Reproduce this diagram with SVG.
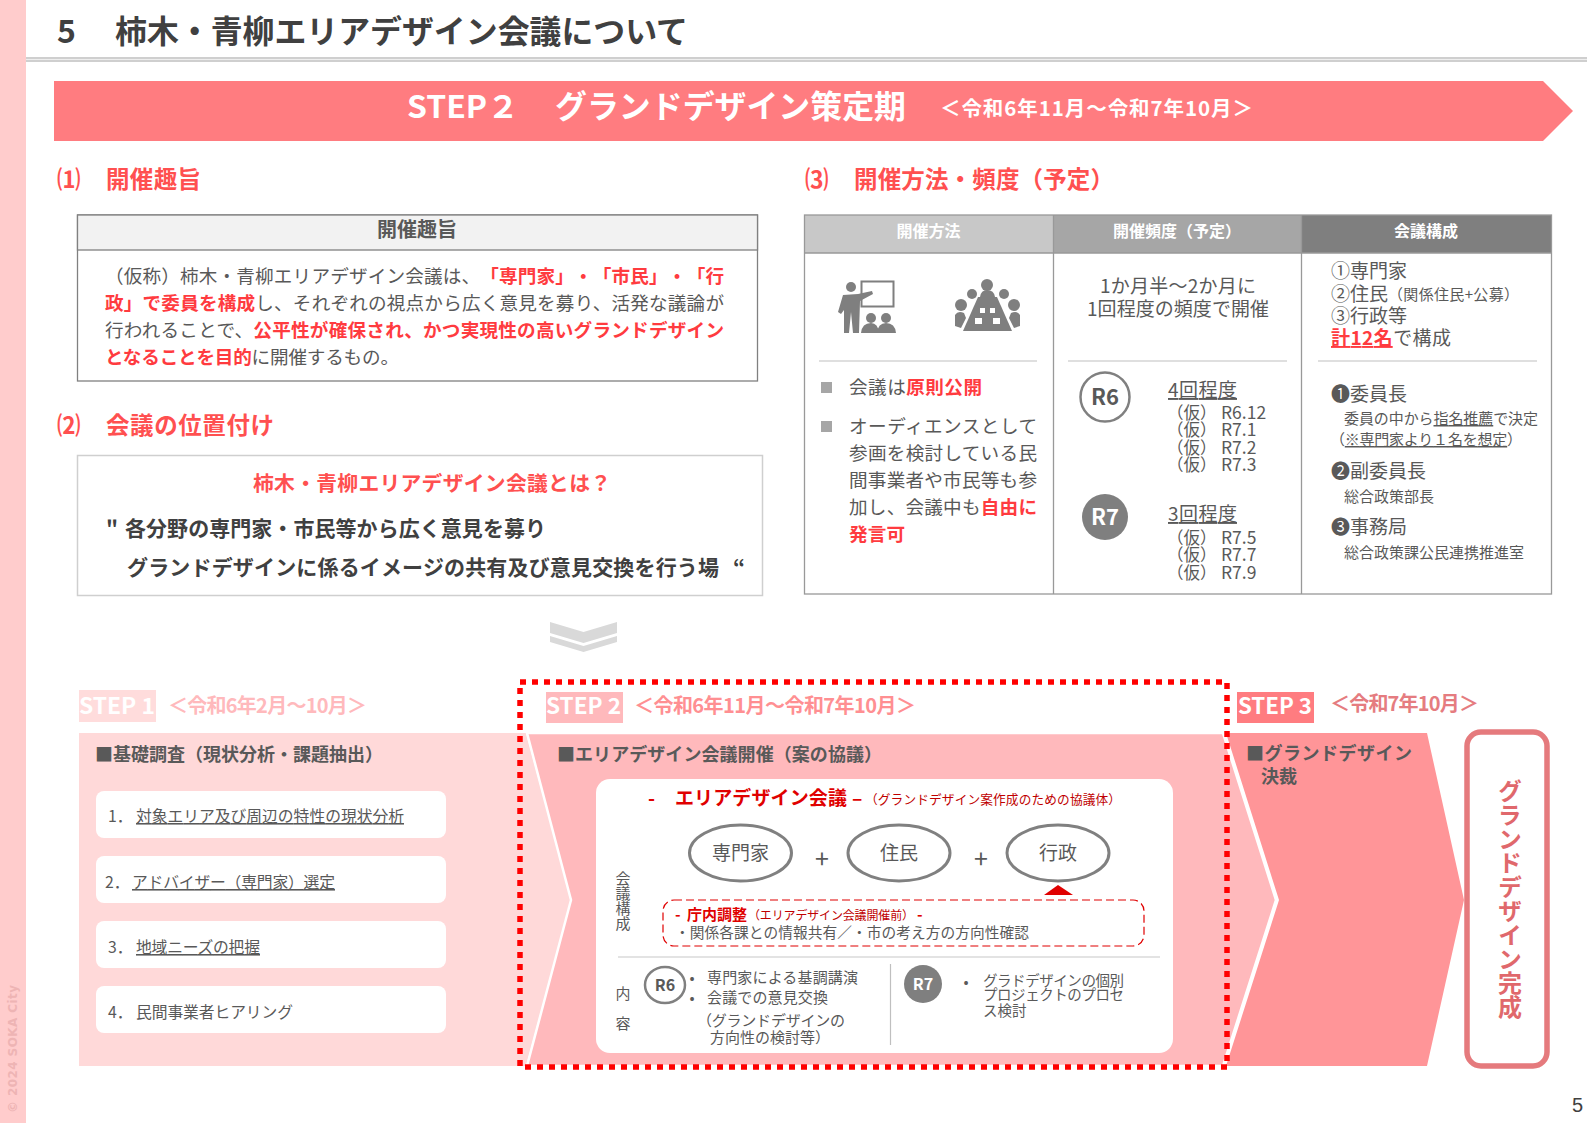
<svg xmlns="http://www.w3.org/2000/svg" width="1587" height="1123" viewBox="0 0 1587 1123">
<style>
text{font-family:"Noto Sans CJK JP","Noto Sans",sans-serif;fill:#595959;text-spacing-trim:space-all}
.b{font-weight:700}
.h{font-size:23.5px;font-weight:700;fill:#ff5050}
.r{fill:#ff3b3f;font-weight:700}
.w{fill:#fff;font-weight:700}
.t{font-size:18.6px}
.s{font-size:16.500px}
.d{font-size:17.500px}
.c{font-size:19px}
.x{font-size:15px}
.m{text-anchor:middle}
.u{text-decoration:underline}
.it{font-size:15.8px}
.sh{font-size:18px;font-weight:700}
.tag{font-size:22px}
.hd{font-size:16px}
</style>
<rect width="1587" height="1123" fill="#fff"/>
<g id="side"><rect width="26" height="1123" fill="#ffcccc"/>
<text transform="translate(17,1113) rotate(-90)" style="font-family:'DejaVu Sans',sans-serif;font-size:12px;font-weight:700;fill:#eeb4b4" textLength="128">© 2024 SOKA City</text></g>
<g id="title"><text x="57" y="43" class="b" style="font-size:32px;fill:#404040">5</text><text x="115" y="43" class="b" style="font-size:32px;fill:#404040" textLength="573" lengthAdjust="spacingAndGlyphs">柿木・青柳エリアデザイン会議について</text>
<rect x="26" y="57" width="1561" height="5" fill="#cfcfcf"/><rect x="26" y="59" width="1561" height="1" fill="#eeeeee"/></g>
<g id="banner"><polygon points="54,81 1543,81 1573,111 1543,141 54,141" fill="#ff7c80"/>
<text x="407" y="118" class="w" style="font-size:31px" textLength="112" lengthAdjust="spacingAndGlyphs">STEP２</text><text x="555" y="118" class="w" style="font-size:31.500px" textLength="351" lengthAdjust="spacingAndGlyphs">グランドデザイン策定期</text>
<text x="940" y="116" class="w" style="font-size:20.5px" textLength="313">＜令和6年11月～令和7年10月＞</text></g>

<g id="s1"><text x="57" y="188" class="h">⑴</text><text x="106" y="188" class="h" textLength="95">開催趣旨</text>
<rect x="77.500" y="215" width="680" height="166" fill="#fff" stroke="#808080" stroke-width="1.300"/>
<rect x="77.500" y="215" width="680" height="35" fill="#f2f2f2" stroke="#808080" stroke-width="1.300"/>
<text x="417" y="237" class="b m" style="font-size:20px">開催趣旨</text>
<text x="105" y="283" class="t" textLength="619">（仮称）柿木・青柳エリアデザイン会議は、<tspan class="r">「専門家」・「市民」・「行</tspan></text>
<text x="105" y="310" class="t" textLength="619"><tspan class="r">政」で委員を構成</tspan>し、それぞれの視点から広く意見を募り、活発な議論が</text>
<text x="105" y="337" class="t" textLength="619">行われることで、<tspan class="r">公平性が確保され、かつ実現性の高いグランドデザイン</tspan></text>
<text x="105" y="364" class="t" textLength="294"><tspan class="r">となることを目的</tspan>に開催するもの。</text></g>

<g id="s2"><text x="57" y="434" class="h">⑵</text><text x="106" y="434" class="h" textLength="168">会議の位置付け</text>
<rect x="77.500" y="455.500" width="685" height="140" fill="#fff" stroke="#cfcfcf" stroke-width="1.500"/>
<text x="253" y="491" class="b" style="font-size:20.800px;fill:#ff5050" textLength="358">柿木・青柳エリアデザイン会議とは？</text>
<text x="106" y="536" class="b" style="font-size:21px;fill:#404040">"</text><text x="125" y="536" class="b" style="font-size:21px;fill:#404040" textLength="421">各分野の専門家・市民等から広く意見を募り</text>
<text x="127" y="575" class="b" style="font-size:21px;fill:#404040" textLength="592">グランドデザインに係るイメージの共有及び意見交換を行う場</text><text x="733" y="575" class="b" style="font-size:21px;fill:#404040">“</text></g>
<g id="chev" fill="#d9d9d9"><polygon points="550,622 583.500,632 617,622 617,633 583.500,643 550,633"/><polygon points="550,636 583.500,646 617,636 617,642 583.500,652 550,642"/></g>

<g id="s3"><text x="805" y="188" class="h">⑶</text><text x="854" y="188" class="h" textLength="260">開催方法・頻度（予定）</text>
<rect x="804" y="215" width="249" height="38" fill="#c8c8c8"/><rect x="1053" y="215" width="248" height="38" fill="#a6a6a6"/><rect x="1301" y="215" width="250" height="38" fill="#7f7f7f"/>
<g fill="none" stroke="#999" stroke-width="1.300"><rect x="804.500" y="215" width="747" height="379"/><line x1="1053.500" y1="215" x2="1053.500" y2="594"/><line x1="1301.500" y1="215" x2="1301.500" y2="594"/><line x1="804" y1="253" x2="1551" y2="253"/></g>
<text x="928.500" y="237" class="w m hd">開催方法</text><text x="1177" y="237" class="w m hd">開催頻度（予定）</text><text x="1426" y="237" class="w m hd">会議構成</text>
<g id="icon-presenter" fill="#7f7f7f"><rect x="861.500" y="281.500" width="32" height="25" fill="none" stroke="#7f7f7f" stroke-width="2"/><circle cx="851" cy="287" r="5"/><path d="M843,295 L858,294 L872,291 L873,294 L860,301 L859,333 L853,333 L851,312 L849,333 L844,333 L844,310 L841,314 L838,312Z"/><circle cx="871" cy="318" r="5"/><circle cx="886" cy="318" r="5"/><path d="M861,333 Q862,323 871,323 Q878,323 879,333Z M877,333 Q878,323 886,323 Q895,323 896,333Z"/></g>
<g id="icon-meeting" fill="#7f7f7f"><path d="M978,297 L997,297 L1012,331 L963,331Z"/><circle cx="987" cy="285" r="6"/><path d="M980,297 Q981,290 987,290 Q994,290 995,297Z"/><circle cx="972" cy="294" r="5"/><circle cx="1004" cy="294" r="5"/><circle cx="961" cy="305" r="6"/><circle cx="1014" cy="305" r="6"/><path d="M955,326 L955,315 Q958,310 964,313 L966,318 L961,328Z M1020,326 L1020,315 Q1017,310 1011,313 L1009,318 L1014,328Z"/><rect x="980" y="308" width="5" height="5" fill="#fff"/><rect x="990" y="308" width="5" height="5" fill="#fff"/><rect x="975" y="318" width="7" height="6" fill="#fff"/><rect x="993" y="318" width="7" height="6" fill="#fff"/></g>
<g stroke="#d4d4d4" stroke-width="1.300"><line x1="819" y1="361" x2="1037" y2="361"/><line x1="1068" y1="361" x2="1287" y2="361"/><line x1="1318" y1="361" x2="1537" y2="361"/></g>
<rect x="821" y="382" width="11" height="11" fill="#a6a6a6"/><rect x="821" y="421" width="11" height="11" fill="#a6a6a6"/>
<text x="849" y="394" class="t" textLength="133">会議は<tspan class="r">原則公開</tspan></text>
<text x="849" y="433" class="t" textLength="188">オーディエンスとして</text><text x="849" y="460" class="t" textLength="188">参画を検討している民</text><text x="849" y="487" class="t" textLength="188">間事業者や市民等も参</text>
<text x="849" y="514" class="t" textLength="188">加し、会議中も<tspan class="r">自由に</tspan></text><text x="849" y="541" class="t r" textLength="56">発言可</text>

<text x="1178" y="293" class="c m" textLength="156">1か月半～2か月に</text><text x="1178" y="316" class="c m" textLength="182">1回程度の頻度で開催</text>
<g id="r6a"><circle cx="1105" cy="397" r="24.500" fill="#fff" stroke="#808080" stroke-width="2.500"/><text x="1105" y="405" class="b m" style="font-size:22px">R6</text></g>
<g id="r7a"><circle cx="1105" cy="517" r="23" fill="#7f7f7f"/><text x="1105" y="525" class="w m" style="font-size:22px">R7</text></g>
<text x="1168" y="397" class="c u" textLength="69">4回程度</text>
<text x="1167" y="419" class="s">（仮）</text><text x="1221" y="419" class="d">R6.12</text>
<text x="1167" y="436" class="s">（仮）</text><text x="1221" y="436" class="d">R7.1</text>
<text x="1167" y="454" class="s">（仮）</text><text x="1221" y="454" class="d">R7.2</text>
<text x="1167" y="471" class="s">（仮）</text><text x="1221" y="471" class="d">R7.3</text>
<text x="1168" y="521" class="c u" textLength="69">3回程度</text>
<text x="1167" y="544" class="s">（仮）</text><text x="1221" y="544" class="d">R7.5</text>
<text x="1167" y="561" class="s">（仮）</text><text x="1221" y="561" class="d">R7.7</text>
<text x="1167" y="579" class="s">（仮）</text><text x="1221" y="579" class="d">R7.9</text>

<text x="1331" y="278" class="c">①専門家</text>
<text x="1331" y="301" class="c">②住民</text><text x="1388" y="300" class="x" textLength="131">（関係住民+公募）</text>
<text x="1331" y="323" class="c">③行政等</text>
<text x="1331" y="345" class="c" textLength="120"><tspan class="r u">計12名</tspan>で構成</text>
<text x="1331" y="401" class="c">❶委員長</text>
<text x="1344" y="424" class="x" textLength="194">委員の中から<tspan class="u">指名推薦</tspan>で決定</text>
<text x="1330" y="445" class="x" textLength="192">（<tspan class="u">※専門家より１名を想定</tspan>）</text>
<text x="1331" y="478" class="c">❷副委員長</text><text x="1344" y="502" class="x" textLength="90">総合政策部長</text>
<text x="1331" y="534" class="c">❸事務局</text><text x="1344" y="558" class="x" textLength="180">総合政策課公民連携推進室</text></g>

<g id="flow">
<polygon points="79,733 526,733 571,900 526,1066 79,1066" fill="#ffd9d9"/>
<polygon points="527,733 1223,733 1276,900 1223,1066 527,1066 571,900" fill="#ffb9bc" stroke="#fff" stroke-width="2.500"/>
<polygon points="1226,733 1427,733 1464,900 1427,1066 1226,1066 1279,900" fill="#ff9598"/>
</g>
<g id="step1"><rect x="79" y="690" width="77" height="32" fill="#ffdcdc"/><text x="79" y="714" class="w tag" textLength="76" lengthAdjust="spacingAndGlyphs">STEP 1</text>
<text x="168" y="713" class="b" style="font-size:20px;fill:#ffb9bc" textLength="199">＜令和6年2月～10月＞</text>
<text x="95" y="761" class="sh" textLength="288">■基礎調査（現状分析・課題抽出）</text>
<g fill="#fff"><rect x="96" y="791" width="350" height="47" rx="8"/><rect x="96" y="856" width="350" height="47" rx="8"/><rect x="96" y="921" width="350" height="47" rx="8"/><rect x="96" y="986" width="350" height="47" rx="8"/></g>
<text x="108" y="822" class="it">1．</text><text x="136" y="822" class="it u" textLength="268">対象エリア及び周辺の特性の現状分析</text>
<text x="105" y="888" class="it">2．</text><text x="132" y="888" class="it u" textLength="203">アドバイザー（専門家）選定</text>
<text x="108" y="953" class="it">3．</text><text x="136" y="953" class="it u" textLength="124">地域ニーズの把握</text>
<text x="108" y="1018" class="it">4．</text><text x="136" y="1018" class="it" textLength="157">民間事業者ヒアリング</text></g>

<g id="step2"><rect x="546" y="692" width="77" height="31" fill="#ffb9bc"/><text x="546" y="714" class="w tag" textLength="75" lengthAdjust="spacingAndGlyphs">STEP 2</text>
<text x="634" y="713" class="b" style="font-size:20px;fill:#ff8f92" textLength="282">＜令和6年11月～令和7年10月＞</text>
<text x="557" y="761" class="sh" textLength="325">■エリアデザイン会議開催（案の協議）</text>
<rect x="596" y="779" width="577" height="274" rx="14" fill="#fff"/>
<text x="648" y="805" class="b" style="font-size:19px;fill:#e00000">-</text><text x="675" y="805" class="b" style="font-size:19px;fill:#e00000" textLength="172">エリアデザイン会議</text><text x="852" y="805" class="b" style="font-size:19px;fill:#e00000">–</text>
<text x="865" y="804" style="font-size:12.700px;fill:#c00000" textLength="256">（グランドデザイン案作成のための協議体）</text>
<g id="n-expert"><ellipse cx="740.500" cy="853" rx="51" ry="28" fill="#fff" stroke="#808080" stroke-width="3"/><text x="740.500" y="860" class="c m">専門家</text></g>
<g id="n-resident"><ellipse cx="899" cy="853" rx="51" ry="28" fill="#fff" stroke="#808080" stroke-width="3"/><text x="899" y="860" class="c m">住民</text></g>
<g id="n-admin"><ellipse cx="1058" cy="853" rx="51" ry="28" fill="#fff" stroke="#808080" stroke-width="3"/><text x="1058" y="860" class="c m">行政</text></g>
<text x="822" y="868" class="m" style="font-size:25px">+</text><text x="981" y="868" class="m" style="font-size:25px">+</text>
<polygon points="1044,895 1058,885 1073,895" fill="#e00000"/>
<text x="623" y="871" style="font-size:15px;writing-mode:vertical-rl">会議構成</text>
<rect x="663" y="900" width="481" height="46" rx="11" fill="none" stroke="#e00000" stroke-width="1.200" stroke-dasharray="8 4"/>
<text x="675" y="920" class="b" style="font-size:15px;fill:#e00000">-</text><text x="687" y="920" class="b" style="font-size:15px;fill:#e00000" textLength="60">庁内調整</text><text x="748" y="920" style="font-size:12px;fill:#c00000" textLength="166">（エリアデザイン会議開催前）</text><text x="917" y="920" class="b" style="font-size:15px;fill:#e00000">-</text>
<text x="675" y="938" style="font-size:14.700px" textLength="354">・関係各課との情報共有／・市の考え方の方向性確認</text>
<line x1="618" y1="957" x2="1160" y2="957" stroke="#c8c8c8" stroke-width="1.200"/><line x1="890.500" y1="964" x2="890.500" y2="1045" stroke="#bfbfbf" stroke-width="1.200"/>
<text x="623" y="999" class="m x">内</text><text x="623" y="1029" class="m x">容</text>
<g id="r6b"><ellipse cx="665" cy="985" rx="20" ry="18" fill="#fff" stroke="#808080" stroke-width="2.500"/><text x="665" y="991" class="b m" style="font-size:16px">R6</text></g>
<text x="692" y="983" class="m x">•</text><text x="692" y="1003" class="m x">•</text>
<text x="707" y="983" class="x" textLength="151">専門家による基調講演</text><text x="707" y="1003" class="x" textLength="121">会議での意見交換</text>
<text x="697" y="1026" class="x" textLength="148">（グランドデザインの</text><text x="710" y="1043" class="x" textLength="120">方向性の検討等）</text>
<g id="r7b"><circle cx="923" cy="984" r="19" fill="#7f7f7f"/><text x="923" y="990" class="w m" style="font-size:16px">R7</text></g>
<text x="966" y="987" class="m x">•</text>
<text x="983" y="986" style="font-size:14.500px" textLength="141">グラドデザインの個別</text><text x="983" y="1000" style="font-size:14.500px" textLength="141">プロジェクトのプロセ</text><text x="983" y="1016" style="font-size:14.500px">ス検討</text></g>

<g id="step3"><rect x="1237" y="692" width="77" height="31" fill="#ff7c80"/><text x="1238" y="714" class="w tag" textLength="74" lengthAdjust="spacingAndGlyphs">STEP 3</text>
<text x="1330" y="711" class="b" style="font-size:20px;fill:#e57c80" textLength="149">＜令和7年10月＞</text>
<text x="1246" y="760" class="sh" textLength="166">■グランドデザイン</text><text x="1261" y="783" class="sh">決裁</text></g>
<g id="done"><rect x="1467" y="732" width="80" height="334" rx="14" fill="#fff" stroke="#e57a7d" stroke-width="5.500"/>
<text x="1510" y="779" class="b" style="font-size:24px;fill:#e0686c;writing-mode:vertical-rl">グランドデザイン完成</text></g>
<rect id="focus" x="520" y="682" width="707" height="385" fill="none" stroke="#ff0000" stroke-width="5.500" stroke-dasharray="6 6"/>
<text id="page" x="1572" y="1112" style="font-family:'Liberation Sans',sans-serif;font-size:20px;fill:#404040">5</text>
</svg>
